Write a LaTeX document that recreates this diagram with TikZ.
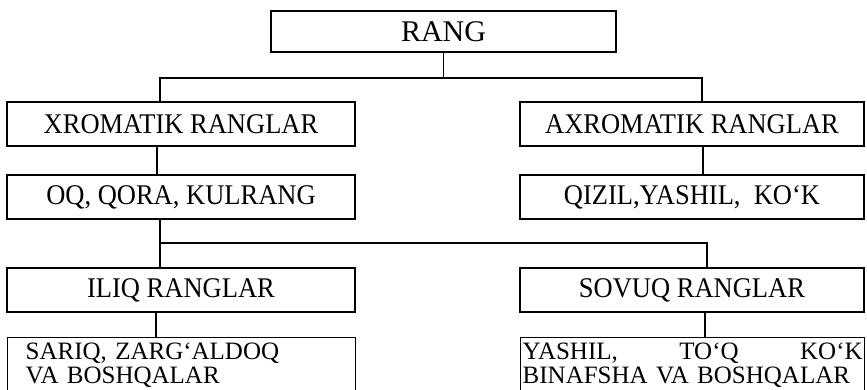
\documentclass[tikz,border=0pt]{standalone}
\usepackage{fontspec}
\setmainfont{Liberation Serif}
\newfontfamily\boxfont{Liberation Serif}[FakeStretch=0.93]

\begin{document}
\begin{tikzpicture}[
    x=1pt, y=-1pt,
    line width=1.4pt,
    box/.style={draw, rectangle, minimum width=348pt, minimum height=44pt,
                inner sep=2pt, font=\boxfont\fontsize{28.5}{30}\selectfont},
    rbox/.style={box, minimum width=344pt},
    txtbox/.style={draw, rectangle, anchor=north west, align=left,
                   inner ysep=5pt, font=\fontsize{25}{24}\selectfont}
]

% One unit is one pixel of the 867 x 389 sheet, y runs downwards.
\clip (0,0) rectangle (867,389);

% ---------- top ----------
\node[box, minimum width=345pt, minimum height=41pt,
      font=\fontsize{30}{30}\selectfont] (rang) at (443.5,31.5) {RANG};

% ---------- left column ----------
\node[box] (xrom) at (181,124) {XROMATIK RANGLAR};
\node[box] (oq)   at (181,197) {OQ, QORA, KULRANG};
\node[box] (iliq) at (181,290) {ILIQ RANGLAR};
\node[txtbox, text width=312pt, inner xsep=18pt] (sariq) at (7,337)
      {SARIQ, ZARG‘ALDOQ\\VA BOSHQALAR};

% ---------- right column ----------
\node[rbox] (axrom) at (692,124) {AXROMATIK RANGLAR};
\node[rbox] (qizil) at (692,197) {QIZIL,YASHIL,\ \ KO‘K};
\node[rbox] (sovuq) at (692,290) {SOVUQ RANGLAR};
\node[txtbox, text width=340pt, inner xsep=2pt] (yashil) at (520,337)
      {YASHIL,\hfill TO‘Q\hfill KO‘K\\BINAFSHA VA BOSHQALAR};

% ---------- connectors ----------
\coordinate (top) at (443.5,78);
\coordinate (split) at (160,243);

\draw (rang.south) -- (top);
\draw ([xshift=-21pt]xrom.north) |- (top) -| ([xshift=10pt]axrom.north);
\draw ([xshift=-24pt]xrom.south) -- ([xshift=-24pt]oq.north);
\draw ([xshift=11pt]axrom.south) -- ([xshift=11pt]qizil.north);
\draw ([xshift=-21pt]oq.south) -- ([xshift=-21pt]iliq.north);
\draw (split) -| ([xshift=15pt]sovuq.north);
\draw ([xshift=-25pt]iliq.south) -- ([xshift=-25pt]iliq.south |- sariq.north);
\draw ([xshift=13pt]sovuq.south) -- ([xshift=13pt]sovuq.south |- yashil.north);

\end{tikzpicture}
\end{document}
